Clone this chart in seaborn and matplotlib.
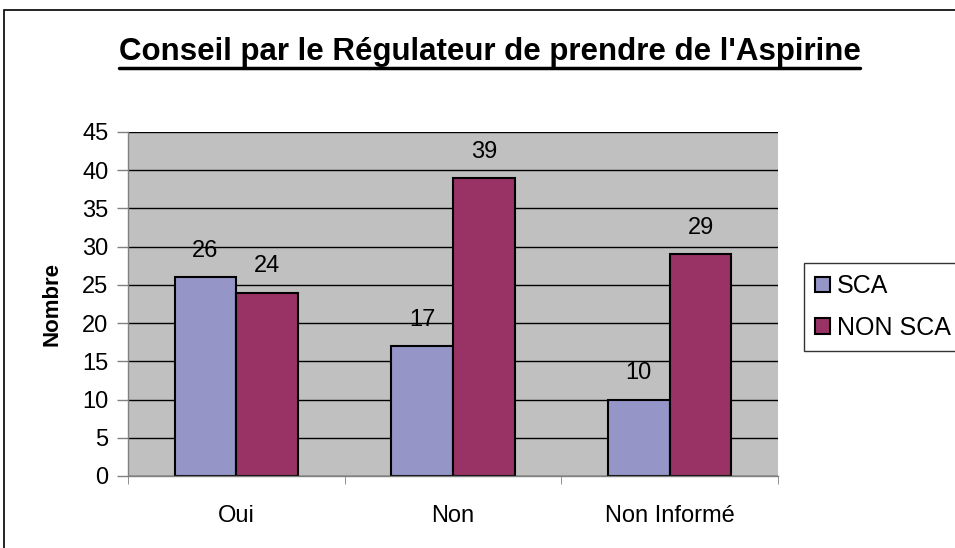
import numpy as np
import pandas as pd
import matplotlib
matplotlib.use("Agg")
import matplotlib.pyplot as plt
from matplotlib.patches import Rectangle
from matplotlib.lines import Line2D
import seaborn as sns

categories = ["Oui", "Non", "Non Informé"]
groups = ["SCA", "NON SCA"]
sca_values = [26, 17, 10]
non_sca_values = [24, 39, 29]
y_ticks = [0, 5, 10, 15, 20, 25, 30, 35, 40, 45]

df = pd.DataFrame({
    "reponse": categories * 2,
    "groupe": [groups[0]] * 3 + [groups[1]] * 3,
    "nombre": sca_values + non_sca_values,
})

sns.set_style("white")
plt.rcParams["font.family"] = ["Liberation Sans", "DejaVu Sans"]
plt.rcParams["text.color"] = "black"
plt.rcParams["axes.labelcolor"] = "black"

fig = plt.figure(figsize=(9.55, 5.48), dpi=100)
ax = fig.add_axes([128 / 955, 1 - 476 / 548, 650 / 955, 344 / 548])
ax.set_facecolor("#C0C0C0")

sns.barplot(data=df, x="reponse", y="nombre", hue="groupe",
            palette=["#9595C8", "#993366"], width=0.57,
            edgecolor="black", linewidth=1.5, ax=ax, saturation=1)

for cont in ax.containers:
    ax.bar_label(cont, padding=11, fontsize=17, color="black")

ax.set_ylim(0, 45)
ax.set_xlim(-0.5, 2.5)
ax.set_yticks(y_ticks)
ax.grid(axis="y", color="black", linewidth=1)
ax.set_axisbelow(True)
ax.set_xlabel("")
ax.set_ylabel("Nombre", fontsize=16, fontweight="bold", labelpad=14)
ax.tick_params(axis="y", labelsize=17, length=8, width=1, color="#808080",
               labelcolor="black", direction="out", left=True, pad=6)
ax.tick_params(axis="x", which="major", labelsize=17, length=0, pad=21,
               labelcolor="black")
ax.set_xticks([-0.5, 0.5, 1.5, 2.5], minor=True)
ax.tick_params(axis="x", which="minor", length=6, color="#808080",
               direction="out", bottom=True)
for side in ["top", "right"]:
    ax.spines[side].set_visible(False)
for side in ["left", "bottom"]:
    ax.spines[side].set_color("#808080")
    ax.spines[side].set_linewidth(1)

leg = ax.legend(loc="upper left", bbox_to_anchor=(804 / 955, 1 - 263 / 548),
                bbox_transform=fig.transFigure, fontsize=18, frameon=True,
                fancybox=False, edgecolor="black", handlelength=0.6,
                handleheight=0.6, handletextpad=0.25, borderpad=0.45,
                borderaxespad=0, labelspacing=0.7, title=None)
leg.get_frame().set_linewidth(1)
for t in leg.get_texts():
    t.set_color("black")

# outer chart border
fig.patches.append(Rectangle((4 / 955, -0.05), 1.2, 0.05 + 1 - 10 / 548,
                             transform=fig.transFigure, fill=False,
                             edgecolor="black", linewidth=1.2))

title = fig.text(489.5 / 955, 1 - 60 / 548,
                 "Conseil par le Régulateur de prendre de l'Aspirine",
                 ha="center", va="baseline", fontsize=22.5, fontweight="bold")
fig.canvas.draw()
bb = title.get_window_extent(fig.canvas.get_renderer())
bb = bb.transformed(fig.transFigure.inverted())
fig.add_artist(Line2D([bb.x0, bb.x1], [1 - 67.5 / 548] * 2,
                      transform=fig.transFigure, color="black", linewidth=2.5))

fig.savefig("out.png", dpi=100)
